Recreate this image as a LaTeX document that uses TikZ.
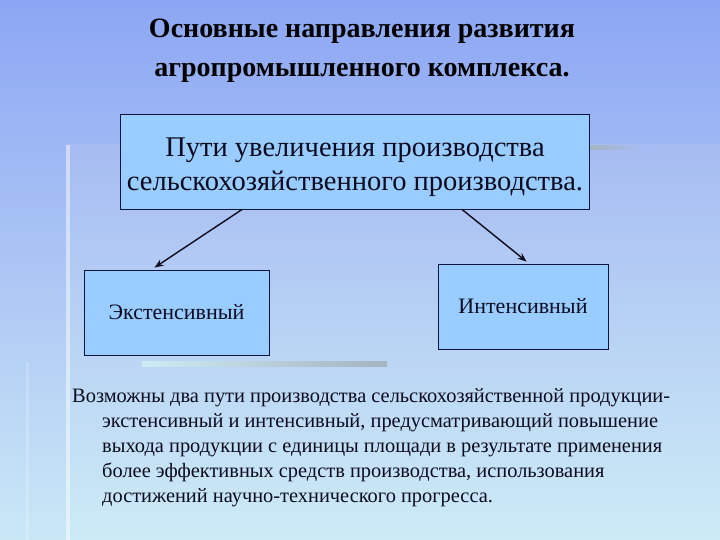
\documentclass[tikz,border=0pt]{standalone}
\usepackage{fontspec}
\setmainfont{Liberation Serif}
\usetikzlibrary{arrows.meta, positioning}
\definecolor{bgtop}{HTML}{8DA6F4}
\definecolor{bgmid}{HTML}{ABC6F4}
\definecolor{bgbot}{HTML}{C9E8F6}
\definecolor{paneltop}{HTML}{A6BCF2}
\definecolor{panelbot}{HTML}{CDEBF6}
\definecolor{boxfill}{HTML}{99CCFF}
\definecolor{boxline}{HTML}{10143A}
\definecolor{txt}{HTML}{0C0C1E}
\definecolor{rulegray}{HTML}{A4B4C0}
\tikzset{
  pathbox/.style={draw=boxline, line width=0.9pt, fill=boxfill, inner sep=0pt, align=center, text=txt},
  arr/.style={-{Stealth[length=9pt, width=7pt]}, line width=1.4pt, draw=txt},
}

\begin{document}
\begin{tikzpicture}[x=1pt, y=-1pt]
  \useasboundingbox (0,0) rectangle (720,540);
  % background
  \shade[top color=bgtop, bottom color=bgbot, middle color=bgmid] (0,0) rectangle (720,540);
  \shade[top color=paneltop, bottom color=panelbot] (66,145) rectangle (720,540);
  \fill[white, opacity=0.45] (66,145) rectangle (70,540);
  \fill[white, opacity=0.2] (26,362) rectangle (29,540);
  \shade[left color=rulegray, right color=paneltop] (590,146) rectangle (642,150);
  \shade[left color=panelbot, right color=rulegray] (142,361) rectangle (387,366);

  % title
  \node[font=\fontsize{28}{39}\selectfont\bfseries, align=center, text=black] (title) at (362,51)
    {Основные направления развития\\агропромышленного комплекса.};

  % boxes
  \node[pathbox, minimum width=469pt, minimum height=95pt] (main) at (355,161.5) {};
  \node[font=\fontsize{28.5}{34}\selectfont, align=center, text=txt] (maintext) at (355,167)
    {Пути увеличения производства\\сельскохозяйственного производства.};
  \node[pathbox, minimum width=185pt, minimum height=85pt, font=\fontsize{22}{26}\selectfont] (ext) at (176.5,312.5)
    {Экстенсивный};
  \node[pathbox, minimum width=170pt, minimum height=85pt, font=\fontsize{22}{26}\selectfont] (int) at (523,306.5)
    {Интенсивный};

  \draw[arr] ([xshift=122pt]main.south west) -- ([xshift=71pt, yshift=2pt]ext.north west);
  \draw[arr] ([xshift=342pt]main.south west) -- ([xshift=89pt, yshift=2pt]int.north west);

  % text below
  \node[anchor=north west, align=left, text=txt, inner sep=0pt,
        font=\fontsize{20.4}{25}\selectfont] (note) at (72,388)
    {Возможны два пути производства сельскохозяйственной продукции-\\
     \hspace*{30pt}экстенсивный и интенсивный, предусматривающий повышение\\
     \hspace*{30pt}выхода продукции с единицы площади в результате применения\\
     \hspace*{30pt}более эффективных средств производства, использования\\
     \hspace*{30pt}достижений научно-технического прогресса.};
\end{tikzpicture}
\end{document}
